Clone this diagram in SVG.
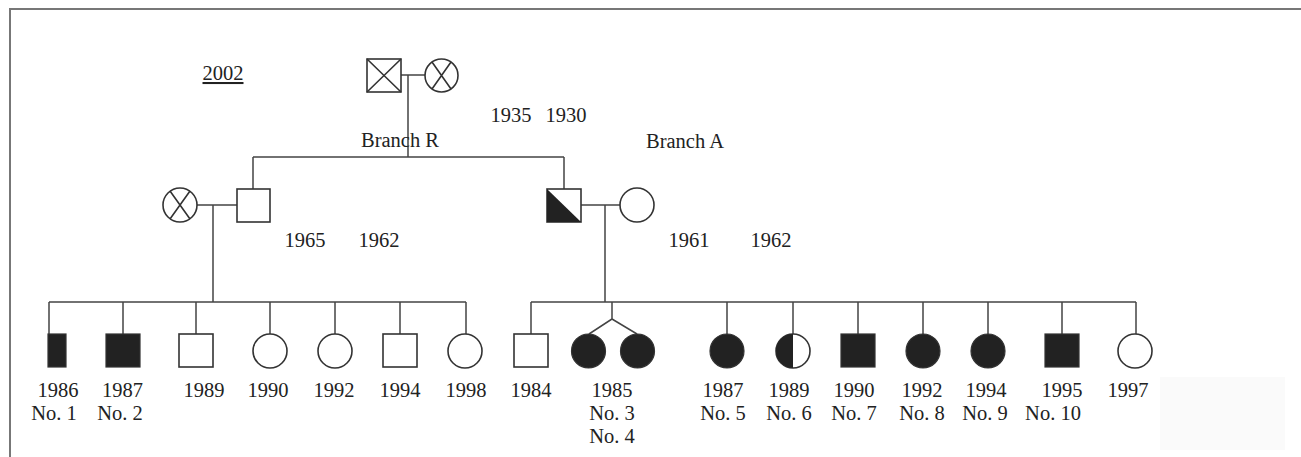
<svg xmlns="http://www.w3.org/2000/svg" width="1301" height="457" viewBox="0 0 1301 457">
<style>
.s{fill:#fff;stroke:#333;stroke-width:1.6}
.f{fill:#222;stroke:#333;stroke-width:1.2}
.x{fill:none;stroke:#333;stroke-width:1.6}
.l{fill:none;stroke:#444;stroke-width:1.5}
text{font-family:"Liberation Serif","Times New Roman",serif;font-size:20.5px;fill:#222;text-anchor:middle}
</style>
<rect width="1301" height="457" fill="#fff"/>
<path d="M10,457 V9 H1301" fill="none" stroke="#777" stroke-width="2"/>
<rect x="1160" y="377" width="125" height="73" fill="#fafafa"/>
<g id="connectors" class="l">
<path d="M401,75 H425 M408,75 V157 M253,157 H564 M253,157 V189 M564,157 V189"/>
<path d="M197,205 H237 M213,205 V302 M49,302 H466 M49,302 V334 M123,302 V334 M196,302 V334 M270,302 V334 M335,302 V334 M400,302 V334 M466,302 V334"/>
<path d="M581,205 H620 M605,205 V302 M531,302 H1136 M531,302 V334 M612,302 V319 L589,334 M612,319 L637,334 M727,302 V334 M793,302 V334 M858,302 V334 M923,302 V334 M988,302 V334 M1062,302 V334 M1136,302 V334"/>
</g>
<text x="223" y="80" style="text-decoration:underline">2002</text>
<g id="grandfather"><rect class="s" x="367" y="59" width="34" height="33"/><path class="x" d="M367,59 L401,92 M401,59 L367,92"/></g>
<g id="grandmother"><circle class="s" cx="441.5" cy="75.5" r="16.5"/><path class="x" d="M432,62 L451,89 M451,62 L432,89"/></g>
<text x="511" y="122">1935</text><text x="566" y="122">1930</text>
<text x="400" y="147">Branch R</text>
<text x="685" y="148">Branch A</text>
<g id="r-wife"><circle class="s" cx="180" cy="205" r="17"/><path class="x" d="M170,191 L190,219 M190,191 L170,219"/></g>
<g id="r-father"><rect class="s" x="237" y="189" width="33" height="33"/></g>
<text x="305" y="247">1965</text><text x="379" y="247">1962</text>
<g id="a-father"><rect class="s" x="547" y="189" width="34" height="33"/><path d="M547,189 L581,222 H547 Z" fill="#222"/></g>
<g id="a-mother"><circle class="s" cx="637" cy="205" r="17"/></g>
<text x="689" y="247">1961</text><text x="771" y="247">1962</text>
<g id="no1"><rect class="f" x="48" y="334" width="18" height="33"/><text x="58" y="397">1986</text><text x="54" y="420">No. 1</text></g>
<g id="no2"><rect class="f" x="106" y="334" width="34" height="33"/><text x="122.5" y="397">1987</text><text x="120" y="420">No. 2</text></g>
<g id="r1989"><rect class="s" x="179" y="334" width="34" height="33"/><text x="204" y="397">1989</text></g>
<g id="r1990"><circle class="s" cx="270" cy="351" r="17"/><text x="268" y="397">1990</text></g>
<g id="r1992"><circle class="s" cx="335" cy="351" r="17"/><text x="334" y="397">1992</text></g>
<g id="r1994"><rect class="s" x="383" y="334" width="34" height="33"/><text x="400" y="397">1994</text></g>
<g id="r1998"><circle class="s" cx="465" cy="351" r="17"/><text x="466" y="397">1998</text></g>
<g id="a1984"><rect class="s" x="514" y="334" width="34" height="33"/><text x="531" y="397">1984</text></g>
<g id="no3"><circle class="f" cx="588.5" cy="351" r="17"/></g>
<g id="no4"><circle class="f" cx="637.5" cy="351" r="17"/></g>
<text x="612" y="397">1985</text><text x="612" y="420">No. 3</text><text x="612" y="443">No. 4</text>
<g id="no5"><circle class="f" cx="727" cy="351" r="17"/><text x="723" y="397">1987</text><text x="723" y="420">No. 5</text></g>
<g id="no6"><circle class="s" cx="793" cy="351" r="17"/><path d="M793,334 A17,17 0 0,0 793,368 Z" fill="#222"/><text x="789" y="397">1989</text><text x="789" y="420">No. 6</text></g>
<g id="no7"><rect class="f" x="841" y="334" width="34" height="33"/><text x="854" y="397">1990</text><text x="854" y="420">No. 7</text></g>
<g id="no8"><circle class="f" cx="923" cy="351" r="17"/><text x="922" y="397">1992</text><text x="922" y="420">No. 8</text></g>
<g id="no9"><circle class="f" cx="988" cy="351" r="17"/><text x="986" y="397">1994</text><text x="985" y="420">No. 9</text></g>
<g id="no10"><rect class="f" x="1045" y="334" width="34" height="33"/><text x="1062" y="397">1995</text><text x="1053" y="420">No. 10</text></g>
<g id="a1997"><circle class="s" cx="1135" cy="351" r="17"/><text x="1128" y="397">1997</text></g>
</svg>
